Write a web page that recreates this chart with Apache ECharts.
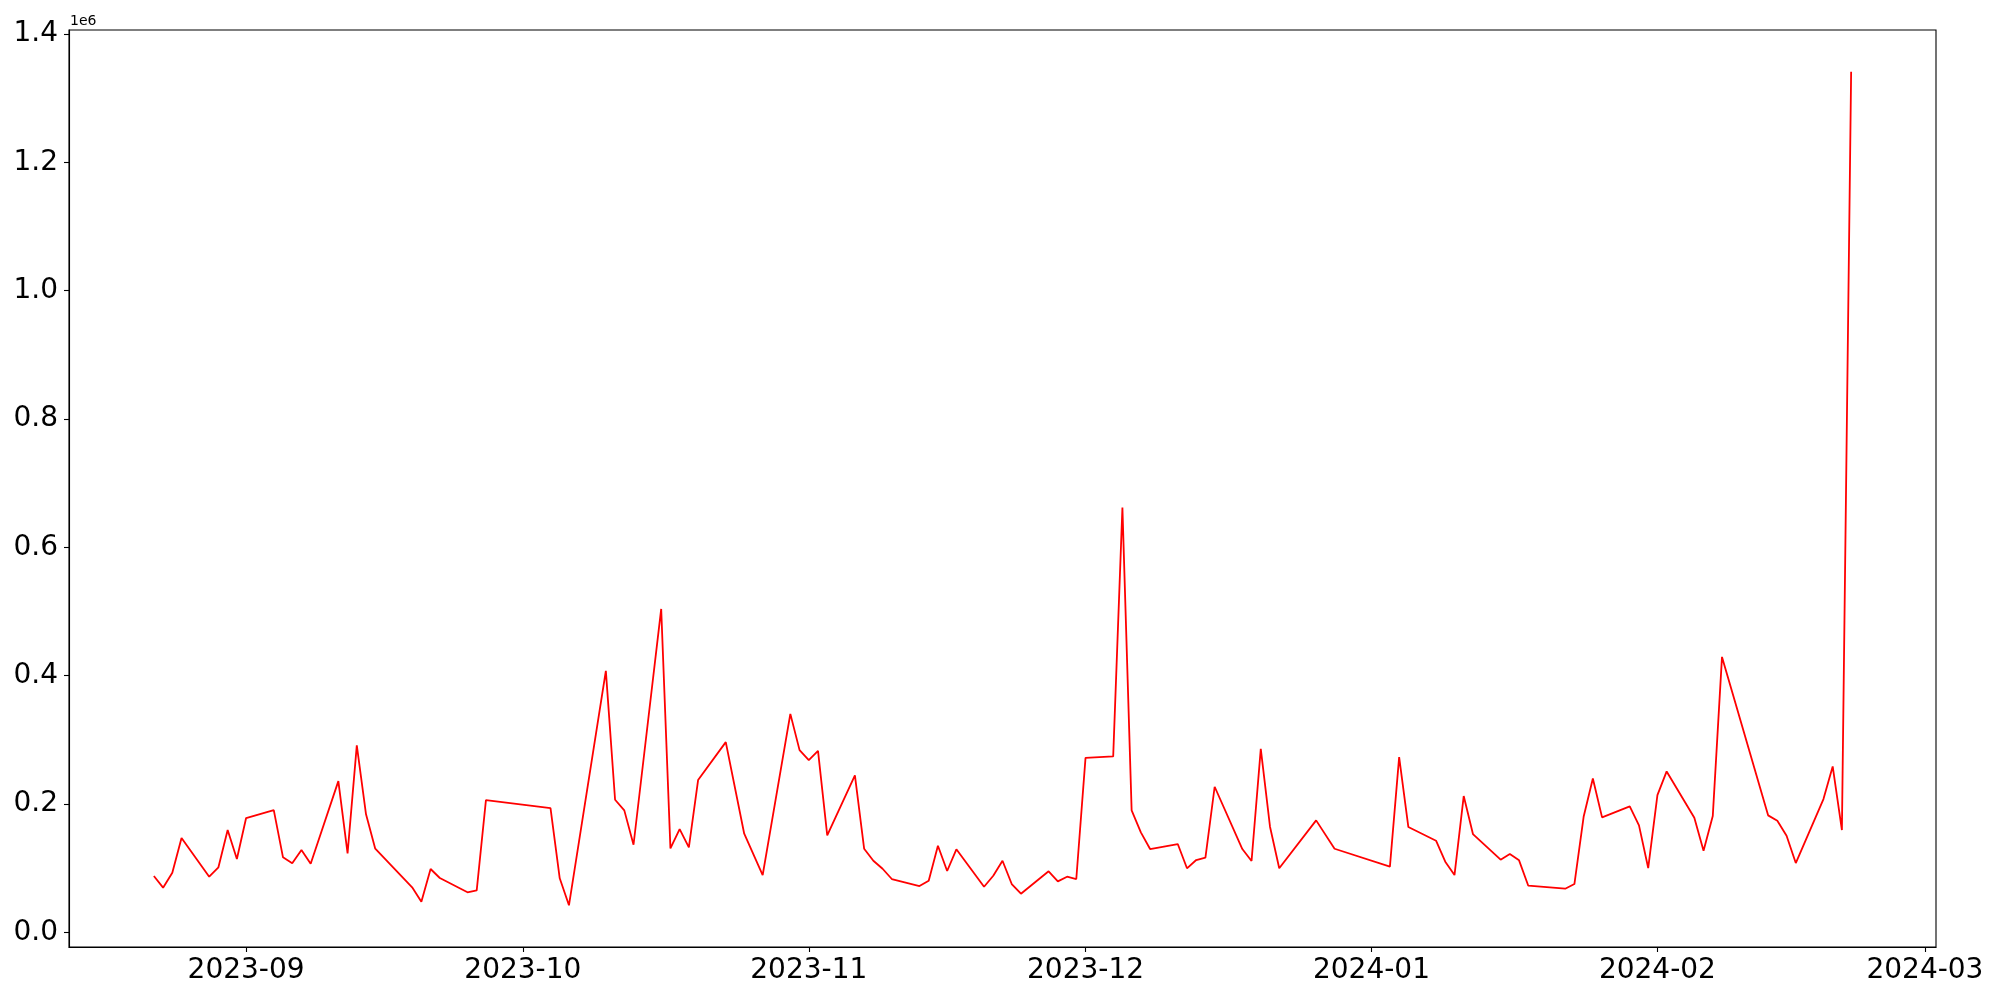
<!DOCTYPE html>
<html>
<head>
<meta charset="utf-8">
<script src="https://cdn.jsdelivr.net/npm/echarts@6/dist/echarts.min.js"></script>
<style>
  html, body { margin: 0; padding: 0; background: #fff; }
  #chart { width: 2000px; height: 1000px; }
</style>
</head>
<body>
<div id="chart"></div>
<script>
// dates of each point (weekday data, gaps where nothing was recorded)
const dates = [
  "2023-08-22", "2023-08-23", "2023-08-24", "2023-08-25",
  "2023-08-28", "2023-08-29", "2023-08-30", "2023-08-31", "2023-09-01",
  "2023-09-04", "2023-09-05", "2023-09-06", "2023-09-07", "2023-09-08",
  "2023-09-11", "2023-09-12", "2023-09-13", "2023-09-14", "2023-09-15",
  "2023-09-19", "2023-09-20", "2023-09-21", "2023-09-22",
  "2023-09-25", "2023-09-26", "2023-09-27",
  "2023-10-04", "2023-10-05", "2023-10-06",
  "2023-10-10", "2023-10-11", "2023-10-12", "2023-10-13",
  "2023-10-16", "2023-10-17", "2023-10-18", "2023-10-19", "2023-10-20",
  "2023-10-23", "2023-10-25", "2023-10-27",
  "2023-10-30", "2023-10-31", "2023-11-01", "2023-11-02", "2023-11-03",
  "2023-11-06", "2023-11-07", "2023-11-08", "2023-11-09", "2023-11-10",
  "2023-11-13", "2023-11-14", "2023-11-15", "2023-11-16", "2023-11-17",
  "2023-11-20", "2023-11-21", "2023-11-22", "2023-11-23", "2023-11-24",
  "2023-11-27", "2023-11-28", "2023-11-29", "2023-11-30", "2023-12-01",
  "2023-12-04", "2023-12-05", "2023-12-06", "2023-12-07", "2023-12-08",
  "2023-12-11", "2023-12-12", "2023-12-13", "2023-12-14", "2023-12-15",
  "2023-12-18", "2023-12-19", "2023-12-20", "2023-12-21", "2023-12-22",
  "2023-12-26", "2023-12-28",
  "2024-01-03", "2024-01-04", "2024-01-05",
  "2024-01-08", "2024-01-09", "2024-01-10", "2024-01-11", "2024-01-12",
  "2024-01-15", "2024-01-16", "2024-01-17", "2024-01-18",
  "2024-01-22", "2024-01-23", "2024-01-24", "2024-01-25", "2024-01-26",
  "2024-01-29", "2024-01-30", "2024-01-31", "2024-02-01", "2024-02-02",
  "2024-02-05", "2024-02-06", "2024-02-07", "2024-02-08",
  "2024-02-13", "2024-02-14", "2024-02-15", "2024-02-16",
  "2024-02-19", "2024-02-20", "2024-02-21", "2024-02-22"
];

const values = [
  87700, 69500, 92800, 146900,
  86600, 101200, 159300, 114200, 178000,
  190500, 116800, 107500, 128200, 106800,
  235600, 123000, 291200, 183800, 130200,
  70100, 47700, 98600, 84600,
  62300, 65400, 206000,
  193600, 84100, 42000,
  407400, 206500, 190000, 136400,
  504000, 130800, 160900, 132400, 237200,
  296400, 153600, 89200,
  340400, 283900, 268300, 282800, 151100,
  244500, 130200, 111500, 99000, 83000,
  72100, 80400, 134900, 95500, 129300,
  71000, 88100, 111500, 75200, 60100,
  95000, 79400, 86600, 83000, 271900,
  274100, 661900, 190000, 155700, 129700,
  137500, 99700, 112600, 116200, 226800,
  129700, 111000, 285900, 164500, 99700,
  174400, 130200,
  102200, 273000, 164000,
  142700, 110000, 89200, 212300, 153100,
  113100, 121900, 112100, 72600,
  67900, 75200, 180000, 239800, 179100,
  196200, 166600, 100100, 213800, 250700,
  178500, 127100, 181100, 429200,
  182200, 173800, 150400, 107900,
  207600, 258500, 159300, 1341400
];

// y tick values and x tick months
const yTicks = [0, 200000, 400000, 600000, 800000, 1000000, 1200000, 1400000];
const xTickMonths = ["2023-09-01", "2023-10-01", "2023-11-01", "2023-12-01", "2024-01-01", "2024-02-01", "2024-03-01"];

function utc(s) {
  const p = s.split("-").map(Number);
  return Date.UTC(p[0], p[1] - 1, p[2]);
}

const seriesData = dates.map((d, i) => [utc(d), values[i]]);
const xTicks = xTickMonths.map(utc);

// matplotlib style 5% margins
const tMin = utc(dates[0]), tMax = utc(dates[dates.length - 1]);
const tPad = (tMax - tMin) * 0.05;
const vMin = Math.min(...values), vMax = Math.max(...values);
const vPad = (vMax - vMin) * 0.05;

const FONT = "DejaVu Sans";

const chart = echarts.init(document.getElementById("chart"));

const option = {
  animation: false,
  backgroundColor: "#fff",
  grid: {
    left: 69,
    right: 64,
    top: 30,
    bottom: 53,
    show: true,
    borderColor: "#000",
    borderWidth: 1.1,
  },
  graphic: [
    {
      type: "text",
      left: 70,
      top: 14,
      style: { text: "1e6", font: "14px 'DejaVu Sans'", fill: "#000" },
    },
  ],
  xAxis: {
    // timestamps on a value axis so ticks can sit exactly on month starts
    type: "value",
    min: tMin - tPad,
    max: tMax + tPad,
    splitLine: { show: false },
    axisLine: { show: true, onZero: false, lineStyle: { color: "#000", width: 1.1 } },
    axisTick: {
      show: true,
      length: 5,
      lineStyle: { color: "#000", width: 1.1 },
      customValues: xTicks,
    },
    axisLabel: {
      color: "#000",
      fontFamily: FONT,
      fontSize: 28,
      margin: 10,
      showMinLabel: true,
      showMaxLabel: true,
      customValues: xTicks,
      formatter: function (v) {
        const d = new Date(v);
        const m = d.getUTCMonth() + 1;
        return d.getUTCFullYear() + "-" + (m < 10 ? "0" + m : m);
      },
    },
  },
  yAxis: {
    type: "value",
    min: vMin - vPad,
    max: vMax + vPad,
    splitLine: { show: false },
    axisLine: { show: true, onZero: false, lineStyle: { color: "#000", width: 1.1 } },
    axisTick: {
      show: true,
      length: 5,
      lineStyle: { color: "#000", width: 1.1 },
      customValues: yTicks,
    },
    axisLabel: {
      color: "#000",
      fontFamily: FONT,
      fontSize: 28,
      margin: 11,
      padding: [7, 0, 0, 0],
      customValues: yTicks,
      formatter: function (v) {
        return (v / 1e6).toFixed(1);
      },
    },
  },
  series: [
    {
      type: "line",
      data: seriesData,
      showSymbol: false,
      symbol: "none",
      smooth: false,
      lineStyle: { color: "#ff0000", width: 1.8 },
      itemStyle: { color: "#ff0000" },
    },
  ],
};

chart.setOption(option);
</script>
</body>
</html>
